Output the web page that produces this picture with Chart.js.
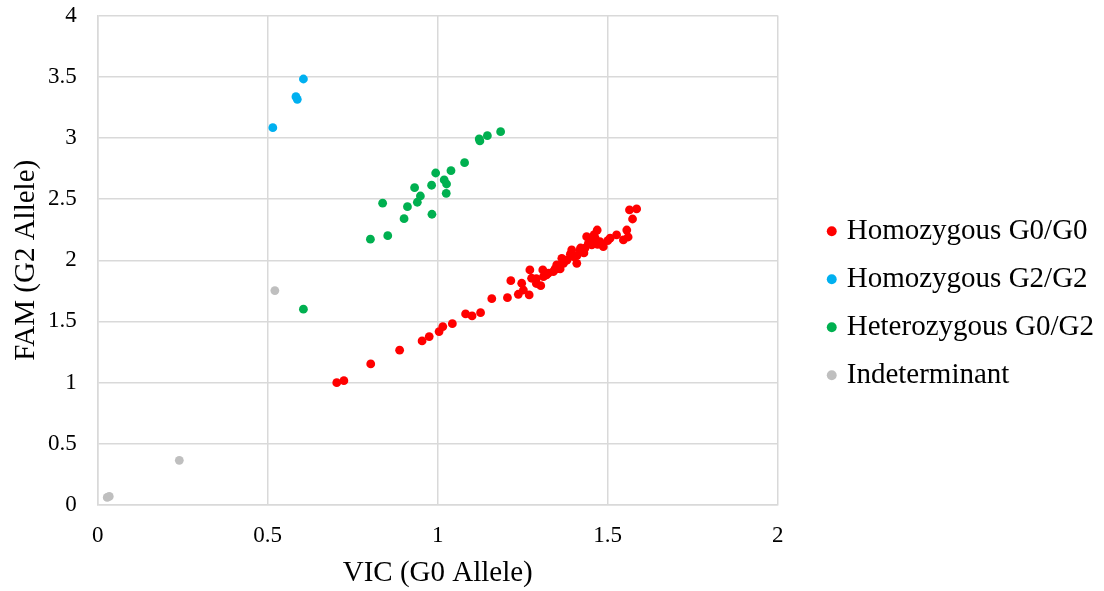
<!DOCTYPE html>
<html>
<head>
<meta charset="utf-8">
<script src="https://cdn.jsdelivr.net/npm/chart.js@4.4.0/dist/chart.umd.min.js"></script>
<style>
  html, body { margin: 0; padding: 0; background: #fff; }
  #wrap { width: 1104px; height: 591px; }
</style>
</head>
<body>
<div id="wrap"><canvas id="scatter" width="1104" height="591"></canvas></div>
<script>
// series values (VIC = x, FAM = y)
const g0g0Vic = [0.703, 0.724, 0.803, 0.888, 0.954, 0.975, 1.004, 1.015, 1.043, 1.082,
                 1.101, 1.126, 1.159, 1.205, 1.215, 1.237, 1.247, 1.252, 1.269, 1.271,
                 1.276, 1.303, 1.309, 1.311, 1.325, 1.340, 1.350, 1.360, 1.365, 1.370,
                 1.394, 1.399, 1.409, 1.419, 1.433, 1.438, 1.443, 1.453, 1.463, 1.469,
                 1.477, 1.487, 1.507, 1.526, 1.546, 1.556, 1.573, 1.564, 1.585,
                 1.290, 1.320, 1.345, 1.380, 1.390, 1.410, 1.420, 1.450, 1.460, 1.470,
                 1.500, 1.560, 1.430, 1.350, 1.290];
const g0g0Fam = [1.000, 1.016, 1.153, 1.265, 1.341, 1.376, 1.417, 1.458, 1.482, 1.561,
                 1.545, 1.572, 1.686, 1.694, 1.833, 1.722, 1.812, 1.757, 1.717, 1.921,
                 1.853, 1.792, 1.921, 1.866, 1.894, 1.907, 1.962, 1.929, 2.016, 1.975,
                 2.084, 2.029, 1.975, 2.084, 2.098, 2.193, 2.139, 2.125, 2.180, 2.247,
                 2.152, 2.111, 2.180, 2.207, 2.166, 2.247, 2.337, 2.411, 2.419,
                 1.850, 1.880, 1.930, 2.000, 2.050, 2.040, 2.100, 2.160, 2.210, 2.130,
                 2.160, 2.190, 2.060, 1.930, 1.810];

const g2g2Vic = [0.605, 0.583, 0.587, 0.515];
const g2g2Fam = [3.481, 3.337, 3.315, 3.083];

const hetVic = [1.185, 1.146, 1.122, 1.124, 1.079, 1.039, 0.994, 1.019, 1.026, 1.025,
                0.982, 0.932, 0.949, 0.940, 0.911, 0.838, 0.901, 0.983, 0.853, 0.802, 0.605];
const hetFam = [3.051, 3.018, 2.991, 2.975, 2.797, 2.732, 2.713, 2.656, 2.623, 2.547,
                2.613, 2.593, 2.525, 2.474, 2.438, 2.466, 2.340, 2.376, 2.201, 2.172, 1.600];

const indetVic = [0.521, 0.240, 0.028, 0.034];
const indetFam = [1.752, 0.365, 0.062, 0.070];

// tick labels
const xTickLabels = ['0', '0.5', '1', '1.5', '2'];
const yTickLabels = ['0', '0.5', '1', '1.5', '2', '2.5', '3', '3.5', '4'];

const toPoints = (xs, ys) => xs.map((x, i) => ({ x: x, y: ys[i] }));

const serif = 'Liberation Serif, Times New Roman, serif';
const gridColor = '#d9d9d9';

function series(label, xs, ys, color) {
    return {
        label: label,
        data: toPoints(xs, ys),
        backgroundColor: color,
        borderColor: color,
        borderWidth: 0,
        pointRadius: 4.4,
        pointHoverRadius: 4.4
    };
}

const ctx = document.getElementById('scatter').getContext('2d');
new Chart(ctx, {
    type: 'scatter',
    data: {
        datasets: [
            series('Homozygous G0/G0', g0g0Vic, g0g0Fam, '#ff0000'),
            series('Homozygous G2/G2', g2g2Vic, g2g2Fam, '#00b0f0'),
            series('Heterozygous G0/G2', hetVic, hetFam, '#00b050'),
            series('Indeterminant', indetVic, indetFam, '#bfbfbf')
        ]
    },
    options: {
        responsive: false,
        animation: false,
        layout: { padding: { top: 15.5, left: 0, right: 0, bottom: 0 } },
        plugins: {
            tooltip: { enabled: false },
            legend: {
                position: 'right',
                maxWidth: 320,
                labels: {
                    usePointStyle: true,
                    pointStyle: 'circle',
                    boxWidth: 1,
                    boxHeight: 7,
                    padding: 19,
                    color: '#000',
                    font: { family: serif, size: 29 }
                }
            }
        },
        scales: {
            x: {
                type: 'linear',
                min: 0,
                max: 2,
                ticks: {
                    stepSize: 0.5,
                    padding: 17.4,
                    color: '#000',
                    font: { family: serif, size: 23 },
                    callback: (v, i) => xTickLabels[i]
                },
                grid: { color: gridColor, lineWidth: 1.5, drawTicks: false },
                border: { color: gridColor, width: 1.5 },
                title: {
                    display: true,
                    text: 'VIC (G0 Allele)',
                    color: '#000',
                    font: { family: serif, size: 29 },
                    padding: { top: 0, bottom: 0 }
                },
                afterFit: s => { s.height = 86; }
            },
            y: {
                type: 'linear',
                min: 0,
                max: 4,
                ticks: {
                    stepSize: 0.5,
                    padding: 21,
                    color: '#000',
                    font: { family: serif, size: 23 },
                    callback: (v, i) => yTickLabels[i]
                },
                grid: { color: gridColor, lineWidth: 1.5, drawTicks: false },
                border: { color: gridColor, width: 1.5 },
                title: {
                    display: true,
                    text: 'FAM (G2 Allele)',
                    color: '#000',
                    font: { family: serif, size: 29 },
                    padding: { top: 8.6, bottom: 0 }
                },
                afterFit: s => {
                    s.width = 97.7;
                    s.paddingTop = 0;
                    s.paddingBottom = 0;
                }
            },
            // empty spacer between plot and legend
            gap: {
                type: 'linear',
                axis: 'y',
                position: 'right',
                display: true,
                ticks: { display: false },
                grid: { display: false },
                border: { display: false },
                afterFit: s => { s.width = 34.5; }
            }
        }
    }
});
</script>
</body>
</html>
